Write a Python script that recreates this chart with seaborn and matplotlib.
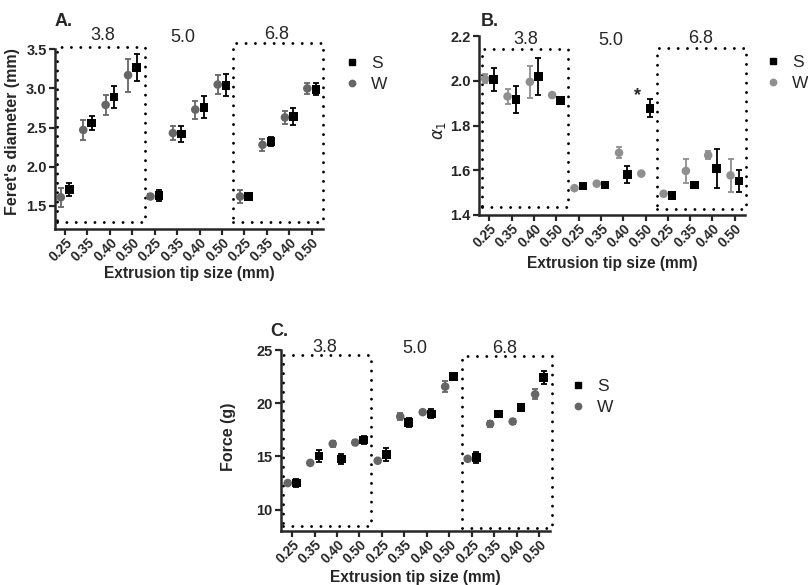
import numpy as np
import pandas as pd
import seaborn as sns
import matplotlib
matplotlib.use("Agg")
import matplotlib.pyplot as plt
from matplotlib.lines import Line2D

sns.set_style("ticks")
plt.rcParams['font.family'] = ['Liberation Sans', 'DejaVu Sans']
plt.rcParams['mathtext.fontset'] = 'dejavusans'

# ---------------- data ----------------
tips = ['0.25', '0.35', '0.40', '0.50']
groups = ['3.8', '5.0', '6.8']
tick_labels = tips * 3

feret_S = [1.71, 2.56, 2.89, 3.27, 1.63, 2.42, 2.76, 3.04, 1.62, 2.32, 2.64, 2.99]
feret_S_err = [0.085, 0.094, 0.14, 0.17, 0.07, 0.10, 0.14, 0.14, 0.035, 0.06, 0.11, 0.08]
feret_W = [1.61, 2.47, 2.79, 3.17, 1.62, 2.43, 2.73, 3.05, 1.62, 2.28, 2.63, 3.00]
feret_W_err = [0.12, 0.13, 0.13, 0.21, 0.03, 0.085, 0.115, 0.12, 0.085, 0.077, 0.085, 0.07]

alpha_S = [2.005, 1.915, 2.02, 1.912, 1.53, 1.535, 1.58, 1.877, 1.487, 1.535, 1.607, 1.552]
alpha_S_err = [0.05, 0.06, 0.083, 0.006, 0.005, 0.005, 0.037, 0.04, 0.005, 0.005, 0.088, 0.05]
alpha_W = [2.008, 1.93, 1.995, 1.936, 1.52, 1.54, 1.678, 1.585, 1.495, 1.597, 1.667, 1.577]
alpha_W_err = [0.02, 0.035, 0.073, 0.006, 0.005, 0.005, 0.025, 0.005, 0.005, 0.052, 0.018, 0.072]

force_S = [12.5, 15.06, 14.78, 16.56, 15.16, 18.19, 19.0, 22.5, 14.9, 18.97, 19.6, 22.44]
force_S_err = [0.35, 0.55, 0.45, 0.35, 0.6, 0.45, 0.42, 0.15, 0.55, 0.2, 0.2, 0.6]
force_W = [12.5, 14.4, 16.19, 16.31, 14.6, 18.75, 19.16, 21.56, 14.78, 18.06, 18.28, 20.84]
force_W_err = [0.15, 0.2, 0.3, 0.2, 0.2, 0.37, 0.2, 0.53, 0.15, 0.3, 0.2, 0.47]

W = 808.0
H = 585.0
fig = plt.figure(figsize=(W / 100, H / 100), dpi=100)


def px_axes(l, t, r, b):
    return fig.add_axes([l / W, 1 - b / H, (r - l) / W, (b - t) / H])


def draw_panel(ax, S, Se, Wv, We, wcolor, xlim, ylim, yticks, ytick_fmt,
               boxes, glabel_pos, ylabel, xlabel_y, ylabel_x, ylabel_y,
               ylabel_kw):
    n = len(S)
    idx = np.arange(n)
    df = pd.DataFrame({
        'pos': np.concatenate([idx - 0.19, idx + 0.19]),
        'val': np.concatenate([Wv, S]),
        'err': np.concatenate([We, Se]),
        'series': ['W'] * n + ['S'] * n,
    })
    for ser, col in (('W', wcolor), ('S', 'black')):
        d = df[df.series == ser]
        ax.errorbar(d['pos'], d['val'], yerr=d['err'], fmt='none',
                    ecolor=col, elinewidth=1.3, capsize=2.2, capthick=1.3,
                    zorder=2)
    sns.scatterplot(data=df, x='pos', y='val', hue='series', style='series',
                    markers={'S': 's', 'W': 'o'},
                    palette={'S': 'black', 'W': wcolor}, s=38, linewidth=0,
                    legend=False, ax=ax, zorder=3)
    ax.set_xlim(*xlim)
    ax.set_ylim(*ylim)
    ax.set_yticks(yticks)
    ax.set_yticklabels([ytick_fmt.format(v) for v in yticks],
                       fontweight='bold', fontsize=10.5)
    ax.set_xticks(idx)
    ax.set_xticklabels(tick_labels, rotation=45, ha='right', va='top',
                       rotation_mode='anchor', fontweight='bold', fontsize=9.8)
    for sp in ('top', 'right'):
        ax.spines[sp].set_visible(False)
    for sp in ('left', 'bottom'):
        ax.spines[sp].set_linewidth(1.8)
    ax.tick_params(axis='both', width=1.6, length=4, direction='out', pad=2)
    ax.tick_params(axis='x', pad=1)
    for (l, r, b, t) in boxes:
        ax.plot([l, r, r, l, l], [b, b, t, t, b], color='black', lw=2.1,
                ls=(0, (0.01, 3.2)), dash_capstyle='round', clip_on=False,
                zorder=1)
    for g, (gx, gy) in zip(groups, glabel_pos):
        ax.text(gx, gy, g, ha='center', va='center', fontsize=13,
                clip_on=False)
    ax.set_xlabel('Extrusion tip size (mm)', fontweight='bold', fontsize=11.2)
    ax.set_ylabel(ylabel, **ylabel_kw)
    ax.xaxis.set_label_coords(0.5, xlabel_y)
    ax.xaxis.label.set_va('center')
    ax.yaxis.set_label_coords(ylabel_x, ylabel_y)
    ax.yaxis.label.set_va('center')


def legend_at(x, y, wcolor):
    hs = [Line2D([], [], marker='s', ls='', color='black', markersize=4.2),
          Line2D([], [], marker='o', ls='', color=wcolor, markersize=4.6)]
    fig.legend(hs, ['S', 'W'], loc='upper left',
               bbox_to_anchor=(x / W, 1 - y / H), frameon=False,
               fontsize=12.5, handlelength=1.0, handletextpad=0.6,
               labelspacing=0.35, borderpad=0, borderaxespad=0)


# Panel A
axA = px_axes(55, 49.3, 323, 229)
draw_panel(axA, feret_S, feret_S_err, feret_W, feret_W_err, '#666666',
           (-0.45, 11.51), (1.205, 3.5), [1.5, 2.0, 2.5, 3.0, 3.5], '{:.1f}',
           [(-0.37, 3.57, 1.30, 3.535), (7.51, 11.52, 1.29, 3.58)],
           [(1.7, 3.67), (5.27, 3.65), (9.46, 3.69)],
           "Feret's diameter (mm)", -0.25, -0.16, 0.54,
           dict(fontweight='bold', fontsize=11.5))
legend_at(343, 56, '#666666')

# Panel B
axB = px_axes(479, 36, 745, 215)
draw_panel(axB, alpha_S, alpha_S_err, alpha_W, alpha_W_err, '#8f8f8f',
           (-0.47, 11.46), (1.4, 2.2), [1.4, 1.6, 1.8, 2.0, 2.2], '{:.1f}',
           [(-0.35, 3.53, 1.435, 2.143), (7.52, 11.5, 1.427, 2.148)],
           [(1.64, 2.185), (5.45, 2.18), (9.48, 2.19)],
           r'$\alpha_1$', -0.272, -0.147, 0.475,
           dict(fontsize=12))
axB.text(6.66, 1.935, '*', ha='center', va='center', fontsize=13,
         fontweight='bold')
legend_at(764, 55, '#8f8f8f')

# Panel C
axC = px_axes(281, 350, 550, 531)
draw_panel(axC, force_S, force_S_err, force_W, force_W_err, '#666666',
           (-0.49, 11.47), (8.0, 25.0), [10, 15, 20, 25], '{:.0f}',
           [(-0.42, 3.5, 8.43, 24.53), (7.54, 11.54, 8.28, 24.43)],
           [(1.47, 25.2), (5.47, 25.1), (9.47, 25.1)],
           'Force (g)', -0.258, -0.197, 0.52,
           dict(fontweight='bold', fontsize=11.5))
legend_at(569, 379, '#666666')

# Panel letters
fig.text(55 / W, 1 - 21 / H, 'A.', fontweight='bold', fontsize=13,
         va='center', ha='left')
fig.text(481 / W, 1 - 21 / H, 'B.', fontweight='bold', fontsize=13,
         va='center', ha='left')
fig.text(270 / W, 1 - 331 / H, 'C.', fontweight='bold', fontsize=13,
         va='center', ha='left')

fig.savefig('out.png', dpi=100)
